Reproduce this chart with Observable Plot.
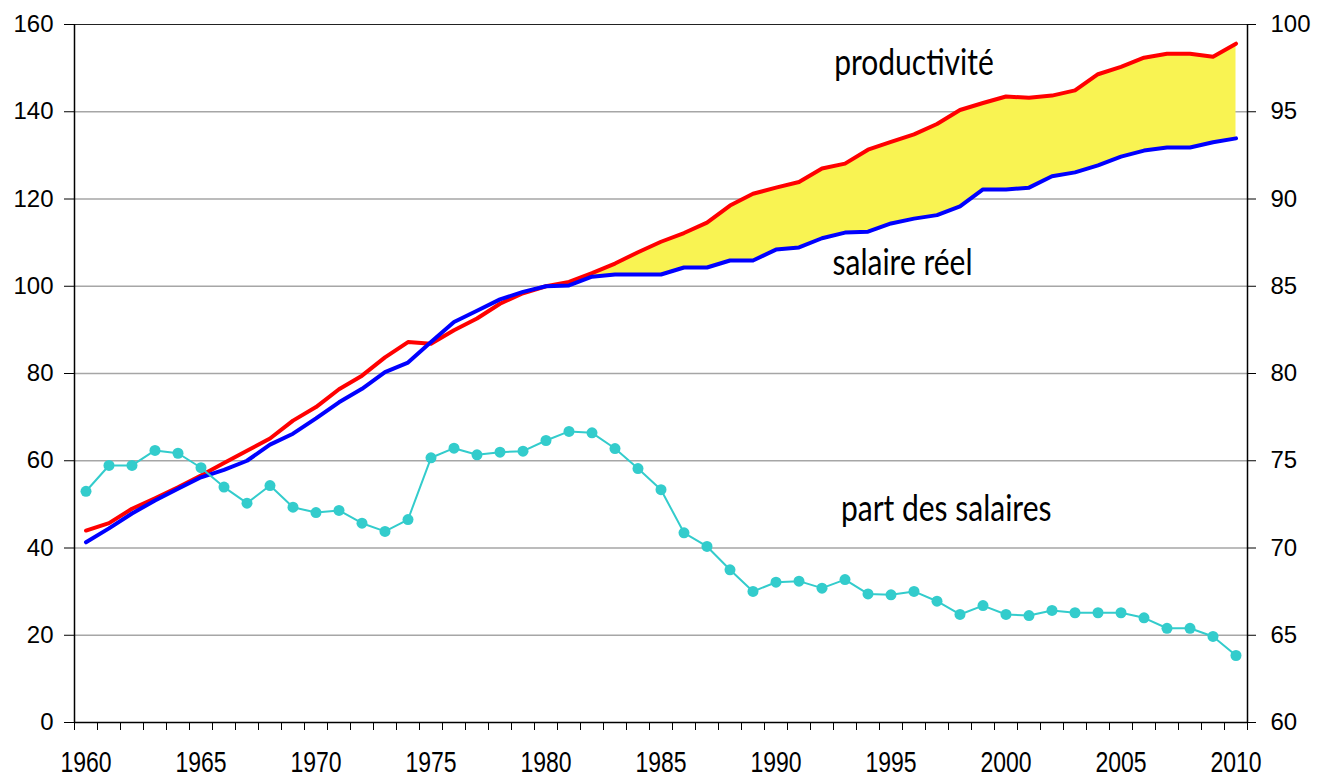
<!DOCTYPE html>
<html>
<head>
<meta charset="utf-8">
<script src="https://cdn.jsdelivr.net/npm/d3@7"></script>
<script src="https://cdn.jsdelivr.net/npm/@observablehq/plot@0.6"></script>
<style>
  html, body { margin: 0; padding: 0; background: #fff; }
  #chart { width: 1327px; height: 778px; }
</style>
</head>
<body>
<div id="chart"></div>
<script>
// ---- data ----
const years = d3.range(1960, 2011);
const productivite = [44.0,45.7,49.0,51.4,53.9,56.6,59.5,62.3,65.1,69.2,72.3,76.4,79.5,83.7,87.2,86.8,89.9,92.6,96.0,98.4,100.0,101.0,103.0,105.2,107.8,110.2,112.2,114.6,118.5,121.2,122.6,123.9,127.0,128.1,131.3,133.1,134.8,137.2,140.4,142.0,143.5,143.2,143.7,144.9,148.6,150.3,152.4,153.3,153.3,152.6,155.6];
const salaireReel = [41.3,44.5,47.9,50.9,53.6,56.2,57.9,60.0,63.7,66.2,69.7,73.4,76.5,80.3,82.5,87.2,91.8,94.4,97.0,98.7,100.0,100.2,102.2,102.7,102.7,102.7,104.3,104.3,105.9,105.9,108.4,108.9,111.0,112.3,112.5,114.4,115.5,116.3,118.3,122.2,122.2,122.6,125.2,126.1,127.7,129.7,131.1,131.8,131.8,133.0,133.9];
const partSalaires = [73.25,74.73,74.73,75.59,75.43,74.6,73.49,72.57,73.58,72.34,72.03,72.15,71.42,70.95,71.63,75.17,75.72,75.34,75.49,75.55,76.16,76.68,76.6,75.7,74.55,73.34,70.87,70.09,68.75,67.51,68.04,68.1,67.7,68.19,67.37,67.32,67.51,66.95,66.19,66.7,66.19,66.13,66.42,66.29,66.29,66.29,66.0,65.4,65.4,64.93,63.84];
const leftTicks = [0,20,40,60,80,100,120,140,160];
const rightTicks = [60,65,70,75,80,85,90,95,100];
const xLabelYears = [1960,1965,1970,1975,1980,1985,1990,1995,2000,2005,2010];
const labels = [
  {text: "productivité", year: 1996.0, value: 151.3},
  {text: "salaire réel", year: 1995.5, value: 105.4},
  {text: "part des salaires", year: 1997.4, value: 49.0}
];

// right axis (60..100) mapped onto left scale (0..160)
const toLeft = v => (v - 60) * 4;
const fromLeft = v => v / 4 + 60;

const rows = years.map((y, i) => ({year: y, prod: productivite[i], sal: salaireReel[i], part: partSalaires[i]}));
const gapRows = rows.filter(d => d.year >= 1980);
const boundaries = years.concat([2011]).map(y => y - 0.5);

const numFont = "Liberation Sans, Arial, sans-serif";

const chart = Plot.plot({
  width: 1327,
  height: 778,
  marginLeft: 74,
  marginRight: 80,
  marginTop: 24,
  marginBottom: 56,
  style: {fontFamily: numFont, fontSize: "24px", color: "#000", background: "#fff"},
  x: {type: "linear", domain: [1959.5, 2010.5], axis: null},
  y: {type: "linear", domain: [0, 160], axis: null},
  marks: [
    Plot.ruleY(leftTicks.filter(t => t > 0 && t < 160), {stroke: "#a6a6a6", strokeWidth: 1.5}),
    Plot.ruleY([160], {stroke: "#222", strokeWidth: 1.2}),
    Plot.areaY(gapRows, {x: "year", y1: "sal", y2: "prod", fill: "#f9f352", fillOpacity: 1}),
    Plot.line(rows, {x: "year", y: "prod", stroke: "#ff0000", strokeWidth: 4}),
    Plot.line(rows, {x: "year", y: "sal", stroke: "#0000ff", strokeWidth: 4}),
    Plot.line(rows, {x: "year", y: d => toLeft(d.part), stroke: "#33cccc", strokeWidth: 2}),
    Plot.dot(rows, {x: "year", y: d => toLeft(d.part), r: 5.5, fill: "#33cccc", stroke: "none"}),
    Plot.ruleY([0], {stroke: "#000", strokeWidth: 1.5}),
    Plot.ruleX([1959.5, 2010.5], {stroke: "#000", strokeWidth: 1.5}),
    Plot.axisY({anchor: "left", ticks: leftTicks, tickSize: 10, tickPadding: 11, label: null, fontSize: 24, fontFamily: numFont, stroke: "#000"}),
    Plot.axisY({anchor: "right", ticks: rightTicks.map(toLeft), tickFormat: d => fromLeft(d), tickSize: 8, tickPadding: 15, label: null, fontSize: 24, fontFamily: numFont, stroke: "#000"}),
    Plot.axisX({ticks: xLabelYears, tickSize: 0, tickPadding: 31, tickFormat: d => String(d), label: null, fontSize: 23, fontFamily: numFont}),
    Plot.axisX({ticks: boundaries, tickSize: 8, tickFormat: () => "", label: null, stroke: "#000"}),
    Plot.text(labels, {x: "year", y: "value", text: "text", fontSize: 30, fontFamily: "Lato, 'Open Sans', sans-serif", fill: "#000"})
  ]
});
document.getElementById("chart").appendChild(chart);

// the reference's text is drawn taller than wide: stretch it vertically around its centre
function stretch(sel, k) {
  chart.querySelectorAll(sel).forEach(el => {
    if (!el.textContent) return;
    const b = el.getBBox();
    const cy = b.y + b.height / 2;
    const prev = el.getAttribute("transform") || "";
    el.setAttribute("transform", `${prev} translate(0,${cy}) scale(1,${k}) translate(0,${-cy})`);
  });
}
stretch('g[aria-label="x-axis tick label"] text', 1.25);
stretch('g[aria-label="text"] text', 1.22);
</script>
</body>
</html>
